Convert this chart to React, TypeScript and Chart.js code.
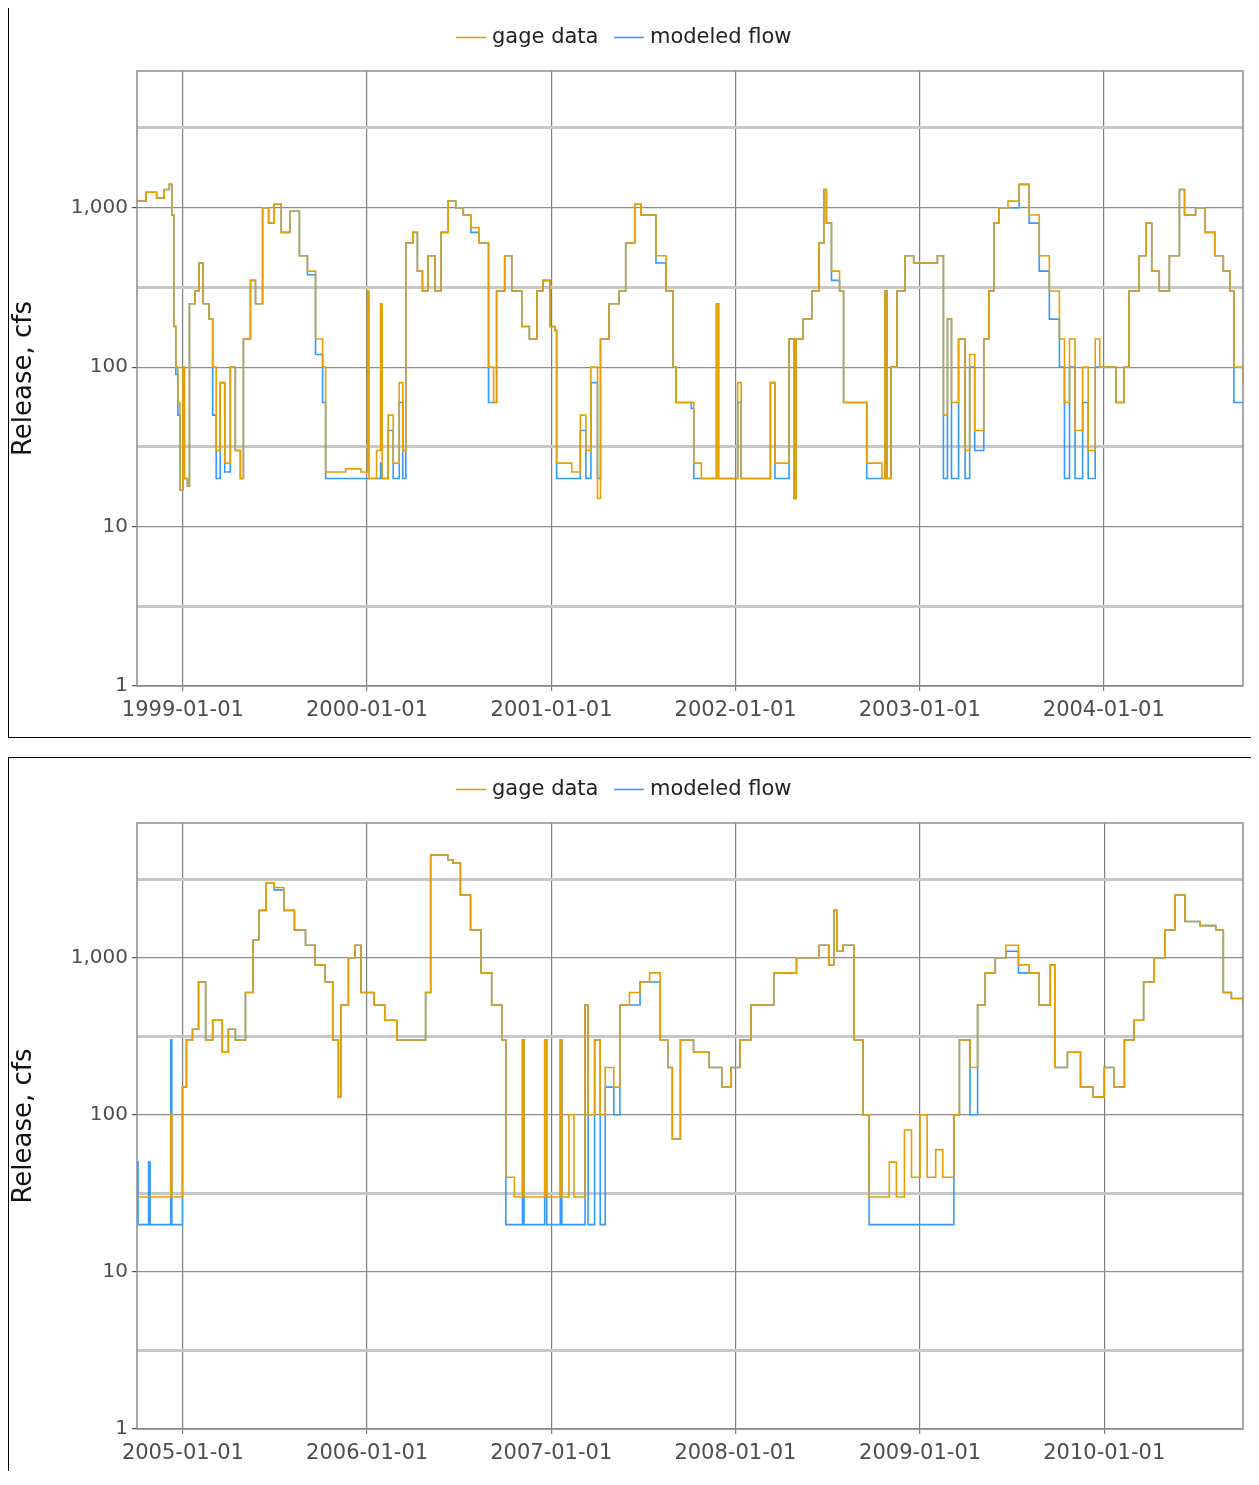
import { useEffect, useRef } from 'react'
import { Chart, registerables } from 'chart.js'

Chart.register(...registerables)

// panel 1: water years 1999-2004
const dates1 = ['1998-10-01','1998-10-20','1998-11-10','1998-11-25','1998-12-05','1998-12-10','1998-12-14','1998-12-18','1998-12-22','1998-12-26','1999-01-01','1999-01-04','1999-01-10','1999-01-14','1999-01-25','1999-02-02','1999-02-10','1999-02-22','1999-03-01','1999-03-08','1999-03-16','1999-03-25','1999-04-05','1999-04-15','1999-04-25','1999-05-01','1999-05-15','1999-05-25','1999-06-08','1999-06-20','1999-07-01','1999-07-15','1999-08-01','1999-08-20','1999-09-05','1999-09-21','1999-10-05','1999-10-11','1999-11-20','1999-12-20','2000-01-02','2000-01-05','2000-01-20','2000-01-28','2000-01-31','2000-02-12','2000-02-22','2000-03-05','2000-03-12','2000-03-18','2000-04-01','2000-04-10','2000-04-20','2000-05-01','2000-05-15','2000-05-27','2000-06-10','2000-06-25','2000-07-10','2000-07-25','2000-08-10','2000-08-29','2000-09-08','2000-09-14','2000-09-30','2000-10-14','2000-11-03','2000-11-18','2000-12-03','2000-12-15','2000-12-29','2001-01-08','2001-01-11','2001-02-10','2001-02-27','2001-03-10','2001-03-20','2001-04-02','2001-04-08','2001-04-25','2001-05-15','2001-05-28','2001-06-15','2001-06-27','2001-07-27','2001-08-16','2001-08-30','2001-09-05','2001-10-05','2001-10-10','2001-10-25','2001-11-24','2001-11-28','2002-01-02','2002-01-05','2002-01-12','2002-03-08','2002-03-11','2002-03-20','2002-04-17','2002-04-27','2002-05-01','2002-05-15','2002-06-01','2002-06-15','2002-06-25','2002-06-30','2002-07-10','2002-07-26','2002-08-03','2002-09-12','2002-09-18','2002-10-18','2002-10-24','2002-10-28','2002-11-05','2002-11-17','2002-12-03','2002-12-20','2003-01-20','2003-02-05','2003-02-17','2003-02-25','2003-03-05','2003-03-19','2003-04-01','2003-04-10','2003-04-20','2003-05-08','2003-05-18','2003-05-28','2003-06-07','2003-06-25','2003-07-17','2003-08-06','2003-08-26','2003-09-15','2003-10-05','2003-10-15','2003-10-25','2003-11-05','2003-11-20','2003-12-01','2003-12-15','2003-12-24','2004-01-12','2004-01-25','2004-02-10','2004-02-20','2004-03-11','2004-03-25','2004-04-05','2004-04-20','2004-05-10','2004-05-30','2004-06-09','2004-07-01','2004-07-20','2004-08-08','2004-08-25','2004-09-07','2004-09-15','2004-09-25','2004-10-03']
const gage1 = [1100,1250,1150,1300,1400,900,180,100,60,17,100,20,18,250,300,450,250,200,100,30,80,25,100,30,20,150,350,250,1000,800,1050,700,950,500,400,150,100,22,23,22,300,20,30,250,20,50,25,80,30,600,700,400,300,500,300,700,1100,1000,900,750,600,100,60,300,500,300,180,150,300,350,180,170,25,22,50,30,100,15,150,250,300,600,1050,900,500,300,100,60,60,25,20,250,20,20,80,20,20,80,25,150,15,150,200,300,600,1300,800,400,300,60,60,25,20,300,20,100,300,500,450,450,500,50,200,60,150,30,120,40,150,300,800,1000,1100,1400,900,500,300,150,60,150,40,100,30,150,100,100,60,100,300,500,800,400,300,500,1300,900,1000,700,500,400,300,100,100,80]
const model1 = [1100,1250,1150,1300,1400,900,180,90,50,17,100,20,18,250,300,450,250,200,50,20,80,22,100,30,20,150,350,250,1000,800,1050,700,950,500,380,120,60,20,20,20,20,20,20,25,20,40,20,60,20,600,700,400,300,500,300,700,1100,1000,900,700,600,60,60,300,500,300,180,150,300,350,180,170,20,20,40,20,80,20,150,250,300,600,1050,900,450,300,100,60,55,20,20,250,20,20,60,20,20,80,20,150,15,150,200,300,600,1300,800,350,300,60,60,20,20,300,20,100,300,500,450,450,500,20,200,20,150,20,100,30,150,300,800,1000,1000,1400,800,400,200,100,20,100,20,60,20,100,100,100,60,100,300,500,800,400,300,500,1300,900,1000,700,500,400,300,60,60,60]

// panel 2: water years 2005-2010
const dates2 = ['2004-10-01','2004-10-04','2004-10-25','2004-10-28','2004-11-25','2004-12-08','2004-12-10','2004-12-31','2005-01-08','2005-01-20','2005-02-01','2005-02-15','2005-03-01','2005-03-20','2005-04-01','2005-04-15','2005-05-05','2005-05-20','2005-06-01','2005-06-15','2005-07-01','2005-07-20','2005-08-10','2005-09-01','2005-09-20','2005-10-10','2005-10-25','2005-11-05','2005-11-10','2005-11-25','2005-12-08','2005-12-20','2006-01-15','2006-02-05','2006-03-01','2006-04-27','2006-05-07','2006-06-10','2006-06-20','2006-07-05','2006-07-25','2006-08-15','2006-09-05','2006-09-25','2006-10-03','2006-10-20','2006-11-05','2006-11-08','2006-12-10','2006-12-19','2006-12-23','2007-01-05','2007-01-19','2007-01-22','2007-02-05','2007-02-15','2007-03-09','2007-03-15','2007-03-28','2007-04-08','2007-04-18','2007-05-05','2007-05-17','2007-06-05','2007-06-26','2007-07-15','2007-08-05','2007-08-20','2007-08-29','2007-09-14','2007-10-10','2007-11-10','2007-12-05','2007-12-23','2008-01-10','2008-02-01','2008-03-17','2008-05-01','2008-06-15','2008-07-04','2008-07-14','2008-07-20','2008-08-01','2008-08-23','2008-09-10','2008-09-22','2008-10-12','2008-11-01','2008-11-15','2008-12-01','2008-12-15','2009-01-01','2009-01-15','2009-02-01','2009-02-15','2009-03-09','2009-03-20','2009-04-10','2009-04-25','2009-05-10','2009-05-30','2009-06-20','2009-07-15','2009-08-05','2009-08-25','2009-09-16','2009-09-25','2009-10-20','2009-11-15','2009-12-10','2010-01-01','2010-01-20','2010-02-10','2010-03-01','2010-03-20','2010-04-10','2010-05-01','2010-05-21','2010-06-10','2010-07-10','2010-08-10','2010-08-25','2010-09-10','2010-10-03']
const gage2 = [30,30,30,30,30,100,30,150,300,350,700,300,400,250,350,300,600,1300,2000,3000,2800,2000,1500,1200,900,700,300,130,500,1000,1200,600,500,400,300,600,4500,4200,4000,2500,1500,800,500,300,40,30,300,30,30,300,30,30,300,30,100,30,500,100,300,100,200,150,500,600,700,800,300,200,70,300,250,200,150,200,300,500,800,1000,1200,900,2000,1100,1200,300,100,30,30,50,30,80,40,100,40,60,40,100,300,200,500,800,1000,1200,900,800,500,900,200,250,150,130,200,150,300,400,700,1000,1500,2500,1700,1600,1500,600,550,500]
const model2 = [50,20,50,20,20,300,20,150,300,350,700,300,400,250,350,300,600,1300,2000,3000,2700,2000,1500,1200,900,700,300,130,500,1000,1200,600,500,400,300,600,4500,4200,4000,2500,1500,800,500,300,20,20,300,20,20,300,20,20,300,20,20,20,500,20,300,20,150,100,500,500,700,700,300,200,70,300,250,200,150,200,300,500,800,1000,1200,900,2000,1100,1200,300,100,20,20,20,20,20,20,20,20,20,20,100,300,100,500,800,1000,1100,800,800,500,900,200,250,150,130,200,150,300,400,700,1000,1500,2500,1700,1600,1500,600,550,500]

const yTicks = [1, 3.162, 10, 31.62, 100, 316.2, 1000, 3162]
const majorY = [1, 10, 100, 1000]
const FONT = 'DejaVu Sans, Verdana, sans-serif'

const toDay = (s: string) => {
  const [y, m, d] = s.split('-').map(Number)
  return Date.UTC(y, m - 1, d) / 86400000
}
const fmtDay = (v: number) => new Date(v * 86400000).toISOString().slice(0, 10)

const framePlugin = {
  id: 'frame',
  beforeLayout(chart: any) {
    const lg = chart.legend
    if (lg && !lg._padded) {
      const fit = lg.fit
      lg.fit = function () {
        fit.call(this)
        this.height += 13
      }
      lg._padded = true
    }
  },
  afterDatasetsDraw(chart: any) {
    const { ctx, chartArea: a } = chart
    ctx.save()
    ctx.strokeStyle = '#8c8c8c'
    ctx.lineWidth = 1.5
    ctx.strokeRect(a.left, a.top, a.right - a.left, a.bottom - a.top)
    ctx.restore()
  },
}

function Panel({ dates, gage, model, years, start, end, height }: any) {
  const ref = useRef<HTMLCanvasElement>(null)
  useEffect(() => {
    if (!ref.current) return
    const xs = dates.map(toDay)
    const yearTicks = years.map((y: number) => Date.UTC(y, 0, 1) / 86400000)
    const chart = new Chart(ref.current, {
      type: 'line',
      data: {
        datasets: [
          {
            label: 'gage data',
            data: xs.map((x: number, i: number) => ({ x, y: gage[i] })),
            borderColor: '#E69F00',
            backgroundColor: '#E69F00',
            borderWidth: 1.6,
            stepped: true,
            pointRadius: 0,
            order: 0,
          },
          {
            label: 'modeled flow',
            data: xs.map((x: number, i: number) => ({ x, y: model[i] })),
            borderColor: '#3399FF',
            backgroundColor: '#3399FF',
            borderWidth: 1.6,
            stepped: true,
            pointRadius: 0,
            order: 1,
          },
        ],
      },
      options: {
        animation: false,
        responsive: false,
        layout: { padding: { top: 1, right: 9, bottom: 0, left: 0 } },
        plugins: {
          legend: {
            position: 'top',
            labels: {
              usePointStyle: true,
              pointStyle: 'line',
              boxWidth: 40,
              padding: 20,
              color: '#222',
              font: { family: FONT, size: 21 },
            },
          },
          tooltip: { enabled: false },
        },
        scales: {
          x: {
            type: 'linear',
            min: toDay(start),
            max: toDay(end),
            afterBuildTicks: (s: any) => { s.ticks = yearTicks.map((v: number) => ({ value: v })) },
            afterFit: (s: any) => { s.height = 50 },
            ticks: {
              callback: (v: any) => fmtDay(Number(v)),
              color: '#4d4d4d',
              maxRotation: 0,
              autoSkip: false,
              padding: 7,
              font: { family: FONT, size: 21 },
            },
            grid: { color: '#7f7f7f', lineWidth: 1.2, tickLength: 5 },
            border: { display: false },
          },
          y: {
            type: 'logarithmic',
            min: 1,
            max: 7200,
            afterBuildTicks: (s: any) => { s.ticks = yTicks.map((v) => ({ value: v })) },
            afterFit: (s: any) => { s.width = 128 },
            ticks: {
              callback: (v: any) => (majorY.includes(Number(v)) ? Number(v).toLocaleString('en-US') : ''),
              color: '#4d4d4d',
              autoSkip: false,
              padding: 4,
              font: { family: FONT, size: 20 },
            },
            grid: {
              color: (c: any) => (majorY.includes(c.tick?.value) ? '#8c8c8c' : '#c8c8c8'),
              lineWidth: (c: any) => (majorY.includes(c.tick?.value) ? 1.2 : 3),
              tickLength: 5,
              tickColor: (c: any) => (majorY.includes(c.tick?.value) ? '#4d4d4d' : 'rgba(0,0,0,0)'),
            },
            border: { display: false },
            title: {
              display: true,
              text: 'Release, cfs',
              color: '#111',
              font: { family: FONT, size: 26 },
              padding: 0,
            },
          },
        },
      },
      plugins: [framePlugin],
    })
    return () => chart.destroy()
  }, [])
  return (
    <div style={{ border: '1.5px solid #000', width: 1246, height, boxSizing: 'border-box' }}>
      <canvas ref={ref} width={1243} height={height - 3} />
    </div>
  )
}

export default function App() {
  useEffect(() => {
    document.documentElement.style.overflow = 'hidden'
    document.body.style.overflow = 'hidden'
  }, [])
  return (
    <div style={{ marginTop: -3, marginBottom: -10 }}>
      <Panel dates={dates1} gage={gage1} model={model1} years={[1999, 2000, 2001, 2002, 2003, 2004]} start="1998-10-02" end="2004-10-03" height={733} />
      <div style={{ height: 19 }} />
      <Panel dates={dates2} gage={gage2} model={model2} years={[2005, 2006, 2007, 2008, 2009, 2010]} start="2004-10-02" end="2010-10-03" height={724} />
    </div>
  )
}
